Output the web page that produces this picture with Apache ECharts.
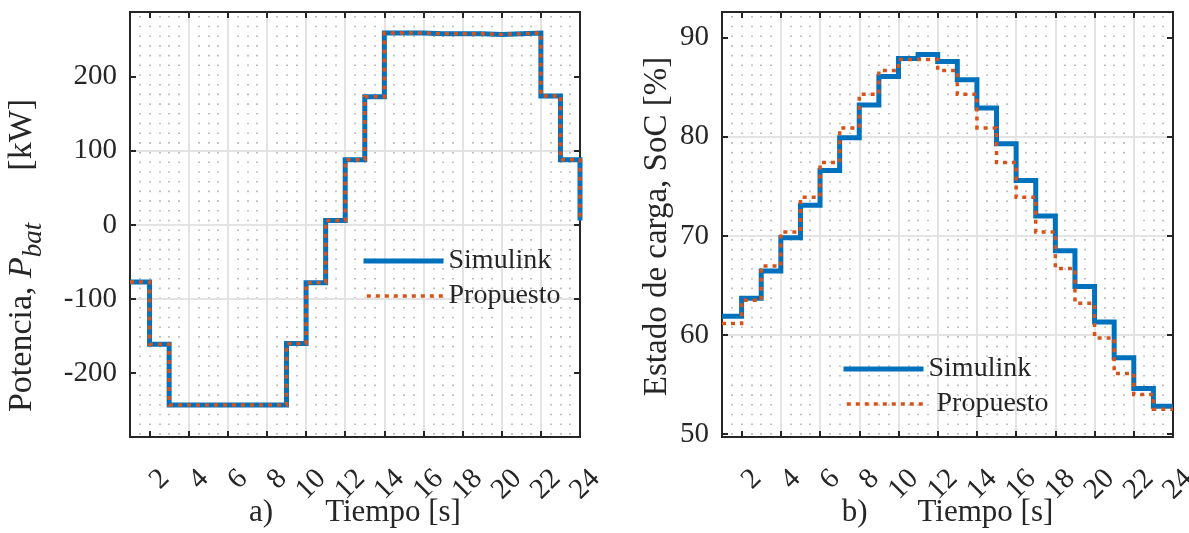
<!DOCTYPE html>
<html>
<head>
<meta charset="utf-8">
<script src="https://cdn.jsdelivr.net/npm/echarts@6/dist/echarts.min.js"></script>
<style>
html,body{margin:0;padding:0;background:#fff;}
#chart{width:1189px;height:533px;}
</style>
</head>
<body>
<div id="chart"></div>
<script>
// ---- data ----
const hours = [1,2,3,4,5,6,7,8,9,10,11,12,13,14,15,16,17,18,19,20,21,22,23,24];
const pSimulink  = [-77,-161,-243,-243,-243,-243,-243,-243,-160,-78,6,88,173,259,259,258,258,258,257,258,259,174,88,6];
const pPropuesto = [-77,-161,-243,-243,-243,-243,-243,-243,-160,-78,6,88,173,259,259,258,258,258,257,258,259,174,88,6];
const socSimulink  = [61.9,63.7,66.45,69.8,73.1,76.6,79.9,83.2,86.1,87.9,88.3,87.6,85.75,82.9,79.3,75.6,72.0,68.5,64.9,61.3,57.7,54.6,52.8,52.8];
const socPropuesto = [61.15,63.5,66.95,70.4,73.9,77.4,80.9,84.3,86.7,87.8,87.8,86.7,84.3,80.9,77.4,73.9,70.4,66.7,63.2,59.7,56.1,54.0,52.5,52.5];
const xTicks = [2,4,6,8,10,12,14,16,18,20,22,24];
const pTicks = [-200,-100,0,100,200];
const socTicks = [50,60,70,80,90];
const seriesNames = ['Simulink','Propuesto'];

// ---- styles ----
const FONT = 'Liberation Serif';
const INK = '#262626';
const BLUE = '#0072BD';
const ORANGE = '#D95319';
const TICK_FS = 29;
const NAME_FS = 31;
const X_MIN = 1, X_MAX = 24;
const LABEL_SHIFT = 9;    // px: rotated tick labels sit slightly right of their ticks
const LABEL_EXTRA = 2;    // helper label axis runs past X_MAX; a blank guard label sits there

const toPts = arr => hours.map((h, i) => [h, arr[i]]);

function mainX(grid, name, rich) {
  return {
    type: 'value', gridIndex: grid, position: 'bottom', min: X_MIN, max: X_MAX, splitNumber: 11, z: 1,
    axisLine: { show: false, onZero: false },
    axisTick: { show: true, inside: true, length: 6, customValues: xTicks, lineStyle: { color: INK, width: 2 } },
    axisLabel: { show: false },
    splitLine: { show: true, showMinLine: false, showMaxLine: false, lineStyle: { color: '#e3e3e3', width: 2 } },
    name: name, nameLocation: 'middle', nameGap: 60, nameMoveOverlap: false,
    nameTextStyle: { fontFamily: FONT, fontSize: NAME_FS, color: INK, rich: rich }
  };
}
function labelX(grid) {
  return {
    type: 'value', gridIndex: grid, position: 'bottom', min: X_MIN, max: X_MAX + LABEL_EXTRA, splitNumber: 11, z: 1,
    axisLine: { show: false, onZero: false }, axisTick: { show: false }, splitLine: { show: false },
    axisLabel: { show: true, customValues: xTicks.concat([X_MAX + LABEL_EXTRA]),
                 formatter: v => (v > X_MAX ? ' ' : String(v)),
                 rotate: 45, align: 'right', verticalAlign: 'top',
                 margin: 22 + LABEL_SHIFT, lineHeight: 18,
                 hideOverlap: false,
                 fontFamily: FONT, fontSize: TICK_FS, color: INK }
  };
}
function topX(grid) {
  return {
    type: 'value', gridIndex: grid, position: 'top', min: X_MIN, max: X_MAX, splitNumber: 11, z: 1,
    axisLine: { show: false, onZero: false },
    axisTick: { show: true, inside: true, length: 6, customValues: xTicks, lineStyle: { color: INK, width: 2 } },
    axisLabel: { show: false }, splitLine: { show: false }
  };
}
function minorX(grid) {
  return {
    type: 'value', gridIndex: grid, position: 'bottom', min: X_MIN, max: X_MAX, interval: 0.5, z: 0,
    axisLine: { show: false, onZero: false }, axisTick: { show: false }, axisLabel: { show: false },
    splitLine: { show: true, showMinLine: false, showMaxLine: false,
                 lineStyle: { color: '#b0b0b0', width: 1.6, type: [1.6, 8.1], dashOffset: 5.7 } }
  };
}
function mainY(grid, min, max, ticks, name, gap, fs, rich, pad) {
  return {
    type: 'value', gridIndex: grid, position: 'left', min: min, max: max, splitNumber: 5, z: 1,
    axisLine: { show: false, onZero: false },
    axisTick: { show: true, inside: true, length: 6, customValues: ticks, lineStyle: { color: INK, width: 2 } },
    axisLabel: { show: true, customValues: ticks, margin: 13, showMinLabel: true, showMaxLabel: true,
                 fontFamily: FONT, fontSize: TICK_FS, color: INK },
    splitLine: { show: true, showMinLine: false, showMaxLine: false, lineStyle: { color: '#e3e3e3', width: 2 } },
    name: name, nameLocation: 'middle', nameGap: gap, nameRotate: 90, nameMoveOverlap: false,
    nameTextStyle: { fontFamily: FONT, fontSize: fs, color: INK, rich: rich, padding: pad || 0 }
  };
}
function rightY(grid, min, max, ticks) {
  return {
    type: 'value', gridIndex: grid, position: 'right', min: min, max: max, splitNumber: 5, z: 1,
    axisLine: { show: false, onZero: false },
    axisTick: { show: true, inside: true, length: 6, customValues: ticks, lineStyle: { color: INK, width: 2 } },
    axisLabel: { show: false }, splitLine: { show: false }
  };
}
function hiddenY(grid) {
  return {
    type: 'value', gridIndex: grid, min: 0, max: 1, show: false,
    axisLine: { show: false }, axisTick: { show: false }, axisLabel: { show: false }, splitLine: { show: false }
  };
}

const xNameRichA = {
  a: { fontFamily: FONT, fontSize: NAME_FS, color: INK },
  t: { fontFamily: FONT, fontSize: NAME_FS, color: INK, padding: [0, 0, 0, 52] }
};
const xNameRichB = {
  a: { fontFamily: FONT, fontSize: NAME_FS, color: INK },
  t: { fontFamily: FONT, fontSize: NAME_FS, color: INK, padding: [0, 0, 0, 50] }
};
const PFS = 34;
const yNameRichP = {
  n: { fontFamily: FONT, fontSize: PFS, color: INK, verticalAlign: 'top' },
  i: { fontFamily: FONT, fontSize: PFS, color: INK, fontStyle: 'italic', verticalAlign: 'top' },
  s: { fontFamily: FONT, fontSize: 27, color: INK, fontStyle: 'italic', verticalAlign: 'top', padding: [15, 0, 0, 0] },
  u: { fontFamily: FONT, fontSize: PFS, color: INK, verticalAlign: 'top', padding: [0, 62, 0, 52] }
};

function lineSeries(name, data, xi, yi, color, width, dash) {
  return {
    type: 'line', name: name, data: data, xAxisIndex: xi, yAxisIndex: yi,
    step: 'end', symbol: 'none', showSymbol: false, clip: false, z: 3,
    lineStyle: { color: color, width: width, type: dash || 'solid', cap: 'butt', join: 'miter' },
    itemStyle: { color: color },
    emphasis: { disabled: true }
  };
}

const legendCommon = {
  orient: 'vertical', itemWidth: 80, itemHeight: 14, itemGap: 7, selectedMode: false, padding: 0,
  lineStyle: { width: 'inherit', type: 'inherit', cap: 'butt' },
  itemStyle: { opacity: 0, borderWidth: 0 },
  textStyle: { fontFamily: FONT, fontSize: 28, color: INK,
               rich: { p: { fontFamily: FONT, fontSize: 28, color: INK, padding: [0, 0, 0, 8] } } },
  data: seriesNames
};

const gridCommon = { show: true, borderColor: INK, borderWidth: 2, backgroundColor: '#fff',
                     containLabel: false, outerBoundsMode: 'none' };
const labelGridCommon = { show: false, containLabel: false, outerBoundsMode: 'none' };
const W0 = 450, W1 = 451;
const span = X_MAX - X_MIN;

const chart = echarts.init(document.getElementById('chart'), null, { renderer: 'canvas' });
const option = {
  animation: false,
  backgroundColor: '#ffffff',
  grid: [
    Object.assign({ left: 130, top: 12, width: W0, height: 425 }, gridCommon),
    Object.assign({ left: 722, top: 12, width: W1, height: 425 }, gridCommon),
    Object.assign({ left: 130 + LABEL_SHIFT, top: 12, width: W0 * (span + LABEL_EXTRA) / span, height: 425 }, labelGridCommon),
    Object.assign({ left: 722 + LABEL_SHIFT, top: 12, width: W1 * (span + LABEL_EXTRA) / span, height: 425 }, labelGridCommon)
  ],
  legend: [
    Object.assign({}, legendCommon, { left: 361, top: 247 }),
    Object.assign({}, legendCommon, { left: 841, top: 355,
      formatter: n => n === 'Propuesto' ? '{p|Propuesto}' : n })
  ],
  xAxis: [
    mainX(0, '{a|a)}{t|Tiempo [s]}', xNameRichA),
    topX(0),
    minorX(0),
    mainX(1, '{a|b)}{t|Tiempo [s]}', xNameRichB),
    topX(1),
    minorX(1),
    labelX(2),
    labelX(3)
  ],
  yAxis: [
    mainY(0, -286, 287.3, pTicks, '{n|Potencia, }{i|P}{s|bat}{u|[kW]}', 83, PFS, yNameRichP, 0),
    rightY(0, -286, 287.3, pTicks),
    mainY(1, 49.7, 92.6, socTicks, 'Estado de carga, SoC [%]', 48, 33, null, [0, 4, 0, 0]),
    rightY(1, 49.7, 92.6, socTicks),
    hiddenY(2),
    hiddenY(3)
  ],
  series: [
    lineSeries(seriesNames[0], toPts(pSimulink), 0, 0, BLUE, 5),
    lineSeries(seriesNames[1], toPts(pPropuesto), 0, 0, ORANGE, 3.5, [4, 5]),
    lineSeries(seriesNames[0], toPts(socSimulink), 3, 2, BLUE, 5),
    lineSeries(seriesNames[1], toPts(socPropuesto), 3, 2, ORANGE, 3.5, [4, 5])
  ]
};
chart.setOption(option);
</script>
</body>
</html>
